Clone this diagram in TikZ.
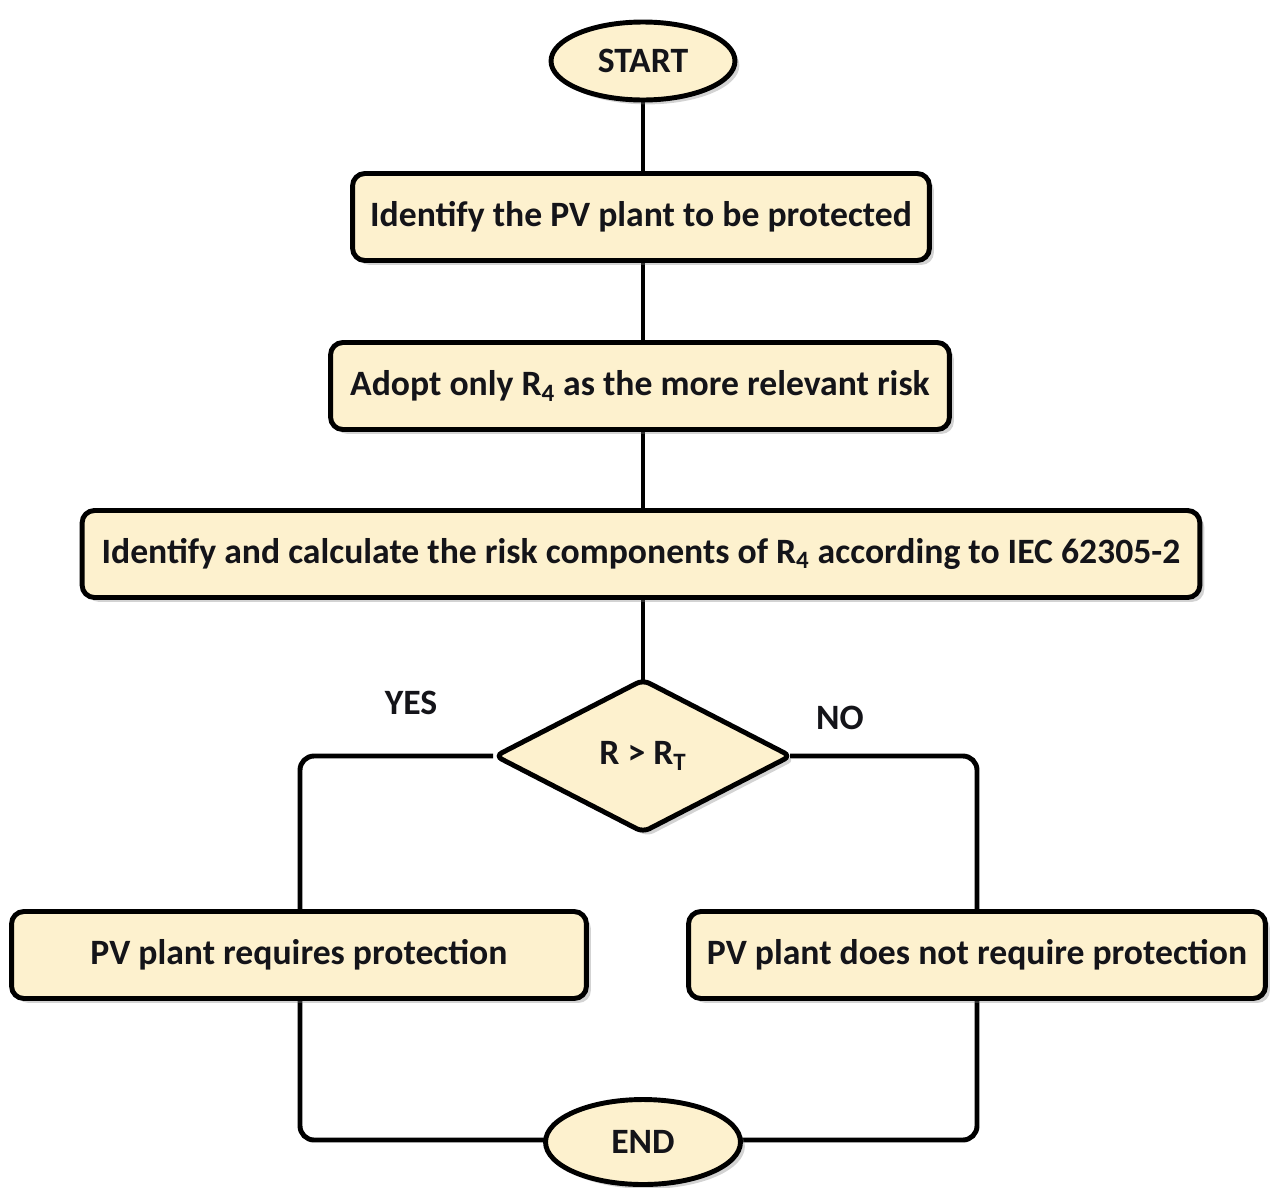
\documentclass[tikz,border=0pt]{standalone}
\usepackage{fontspec}
\setmainfont{Carlito}
\usetikzlibrary{shapes.geometric,shadows}
\definecolor{boxfill}{RGB}{253,241,206}
\definecolor{txt}{RGB}{20,20,25}
\begin{document}
\begin{tikzpicture}[x=0.02cm,y=-0.02cm,
  every node/.style={font=\bfseries\fontsize{20.3}{22}\selectfont, text=txt},
  proc/.style={draw=black, line width=2.8pt, fill=boxfill, rounded corners=7pt, minimum height=1.74cm, inner sep=0pt,
     drop shadow={opacity=0.35, shadow xshift=2.5pt, shadow yshift=-2.5pt}},
  term/.style={draw=black, line width=2.8pt, fill=boxfill, ellipse, inner sep=0pt,
     drop shadow={opacity=0.35, shadow xshift=2.5pt, shadow yshift=-2.5pt}},
  dec/.style={draw=black, line width=2.8pt, fill=boxfill, diamond, aspect=1.93, inner sep=0pt, minimum width=5.94cm, minimum height=3.08cm, rounded corners=4pt,
     drop shadow={opacity=0.35, shadow xshift=2.5pt, shadow yshift=-2.5pt}},
  conn/.style={line width=2.8pt, draw=black, rounded corners=8pt},
  lbl/.style={font=\bfseries\fontsize{20.3}{22}\selectfont}
]
\useasboundingbox (0,0) rectangle (1271,1187);
% connectors first
\draw[conn] (643,60) -- (643,757);
\draw[conn] (493,756) -- (300,756) -- (300,956) -- (300,1140) -- (643,1140);
\draw[conn] (790,756) -- (977,756) -- (977,956) -- (977,1140) -- (643,1140);
% nodes
\node[term, minimum width=3.68cm, minimum height=1.56cm] (start) at (643,61) {START};
\node[proc, minimum width=11.54cm] (b1) at (641,217) {Identify the PV plant to be protected};
\node[proc, minimum width=12.38cm] (b2) at (640,386) {Adopt only R\textsubscript{4} as the more relevant risk};
\node[proc, minimum width=22.36cm] (b3) at (641,554) {Identify and calculate the risk components of R\textsubscript{4} according to IEC 62305-2};
\node[dec] (dia) at (643,756) {R > R\textsubscript{T}};
\node[proc, minimum width=11.5cm] (yes) at (299,955) {PV plant requires protection};
\node[proc, minimum width=11.54cm] (no) at (977,955) {PV plant does not require protection};
\node[term, minimum width=3.9cm, minimum height=1.7cm] (end) at (643,1142) {END};
\node[lbl] (ylab) at (411,703) {YES};
\node[lbl] (nlab) at (840,718) {NO};
\end{tikzpicture}
\end{document}
